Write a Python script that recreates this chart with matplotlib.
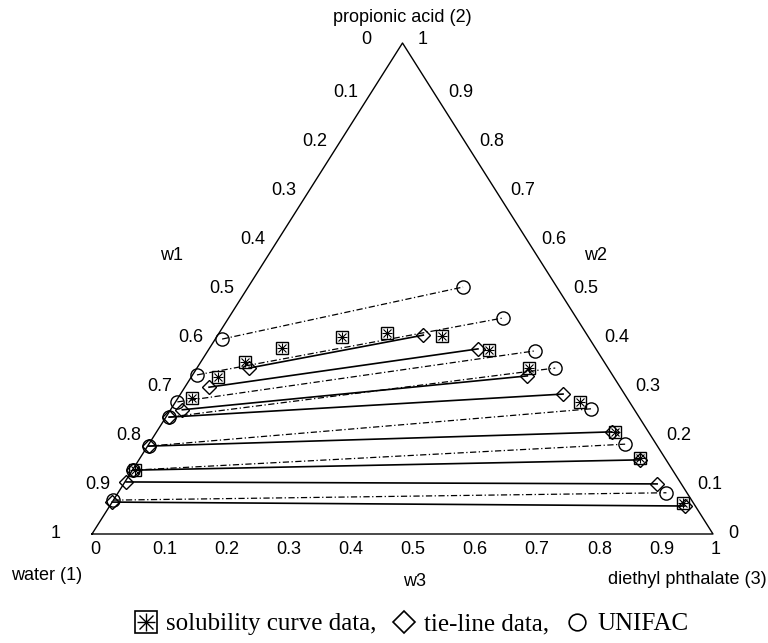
import numpy as np
import matplotlib
matplotlib.use("Agg")
import matplotlib.pyplot as plt
from matplotlib.lines import Line2D

plt.rcParams['font.family'] = ['Liberation Sans', 'DejaVu Sans']

# --- data: mass fractions w2 (propionic acid), w3 (diethyl phthalate) ---
# solubility curve data
sol_w2 = [0.130, 0.277, 0.320, 0.350, 0.379, 0.401, 0.409, 0.403, 0.375, 0.338, 0.269, 0.208, 0.155, 0.063]
sol_w3 = [0.005, 0.023, 0.043, 0.072, 0.117, 0.202, 0.271, 0.362, 0.451, 0.535, 0.652, 0.738, 0.805, 0.920]

# experimental tie-lines (aqueous phase / organic phase)
tie_aq_w2 = [0.065, 0.106, 0.130, 0.179, 0.238, 0.253, 0.299, 0.338]
tie_aq_w3 = [0.000, 0.002, 0.001, 0.002, 0.005, 0.019, 0.039, 0.084]
tie_org_w2 = [0.057, 0.102, 0.151, 0.208, 0.285, 0.322, 0.377, 0.405]
tie_org_w3 = [0.926, 0.859, 0.807, 0.733, 0.616, 0.540, 0.433, 0.331]

# UNIFAC tie-lines
uni_aq_w2 = [0.069, 0.130, 0.179, 0.238, 0.269, 0.324, 0.397]
uni_aq_w3 = [0.000, 0.001, 0.002, 0.005, 0.003, 0.007, 0.011]
uni_org_w2 = [0.084, 0.183, 0.255, 0.338, 0.373, 0.440, 0.503]
uni_org_w3 = [0.883, 0.767, 0.676, 0.577, 0.527, 0.442, 0.346]

ticks = [0, 0.1, 0.2, 0.3, 0.4, 0.5, 0.6, 0.7, 0.8, 0.9, 1]


def tern(w2, w3):
    w2 = np.asarray(w2, dtype=float)
    w3 = np.asarray(w3, dtype=float)
    return w3 + 0.5 * w2, w2


W, H = 768, 643
fig = plt.figure(figsize=(W / 100, H / 100), dpi=100)
ax = fig.add_axes([92 / W, (H - 534) / H, 621 / W, 491 / H])
ax.set_xlim(0, 1)
ax.set_ylim(0, 1)
ax.axis('off')

# triangle
ax.plot([0, 1, 0.5, 0], [0, 0, 1, 0], color='k', lw=1.0, clip_on=False)

# tie lines
for a2, a3, o2, o3 in zip(uni_aq_w2, uni_aq_w3, uni_org_w2, uni_org_w3):
    x, y = tern([a2, o2], [a3, o3])
    ax.plot(x, y, color='k', lw=0.9, ls=(0, (5, 2, 1, 2)), clip_on=False)
for a2, a3, o2, o3 in zip(tie_aq_w2, tie_aq_w3, tie_org_w2, tie_org_w3):
    x, y = tern([a2, o2], [a3, o3])
    ax.plot(x, y, color='k', lw=1.2, clip_on=False)

# markers
x, y = tern(uni_aq_w2 + uni_org_w2, uni_aq_w3 + uni_org_w3)
ax.plot(x, y, 'o', ms=9.5, mfc='none', mec='k', mew=1.0, ls='none', clip_on=False)
x, y = tern(tie_aq_w2 + tie_org_w2, tie_aq_w3 + tie_org_w3)
ax.plot(x, y, 'D', ms=7, mfc='none', mec='k', mew=1.0, ls='none', clip_on=False)
x, y = tern(sol_w2, sol_w3)
ax.plot(x, y, 's', ms=9, mfc='none', mec='k', mew=1.0, ls='none', clip_on=False)
ax.plot(x, y, '+', ms=7, mec='k', mew=0.8, ls='none', clip_on=False)
ax.plot(x, y, 'x', ms=5.5, mec='k', mew=0.8, ls='none', clip_on=False)

# tick labels
fs = 13
for t in ticks:
    lab = f"{t:g}"
    # left edge: w1
    end = t in (0, 1)
    ax.annotate(lab, (0.5 * (1 - t), 1 - t), xytext=(-31 if end else -13, 3 if t == 0 else 0),
                textcoords='offset pixels', ha='right', va='center', fontsize=fs)
    # right edge: w2
    ax.annotate(lab, (1 - 0.5 * t, t), xytext=(15, 3 if t == 1 else 0),
                textcoords='offset pixels', ha='left', va='center', fontsize=fs)
    # bottom: w3
    ax.annotate(lab, (t, 0), xytext=(-2, -16), textcoords='offset pixels',
                ha='left', va='center', fontsize=fs)

# axis and component names
fig.text(402 / W, 1 - 17 / H, "propionic acid (2)", ha='center', va='center', fontsize=fs)
fig.text(47 / W, 1 - 576 / H, "water (1)", ha='center', va='center', fontsize=fs)
fig.text(767 / W, 1 - 580 / H, "diethyl phthalate (3)", ha='right', va='center', fontsize=fs)
fig.text(172 / W, 1 - 256 / H, "w1", ha='center', va='center', fontsize=fs)
fig.text(596 / W, 1 - 256 / H, "w2", ha='center', va='center', fontsize=fs)
fig.text(415 / W, 1 - 581 / H, "w3", ha='center', va='center', fontsize=fs)

# legend
h_sol = (Line2D([], [], marker='s', ms=16, mfc='none', mec='k', mew=1.2, ls='none'),
         Line2D([], [], marker='+', ms=13, mec='k', mew=1.0, ls='none'),
         Line2D([], [], marker='x', ms=10, mec='k', mew=1.0, ls='none'))
h_tie = Line2D([], [], marker='D', ms=11, mfc='none', mec='k', mew=1.2, ls='none')
h_uni = Line2D([], [], marker='o', ms=12, mfc='none', mec='k', mew=1.2, ls='none')
fig.legend([h_sol, h_tie, h_uni],
           ["solubility curve data,", "tie-line data,", "UNIFAC"],
           ncol=3, loc='center', bbox_to_anchor=(411 / W, 1 - 624 / H),
           frameon=False, handlelength=1.0, handletextpad=0.3, columnspacing=0.6,
           prop={'family': ['Liberation Serif', 'DejaVu Serif'], 'size': 18})

fig.savefig("out.png", dpi=100)
